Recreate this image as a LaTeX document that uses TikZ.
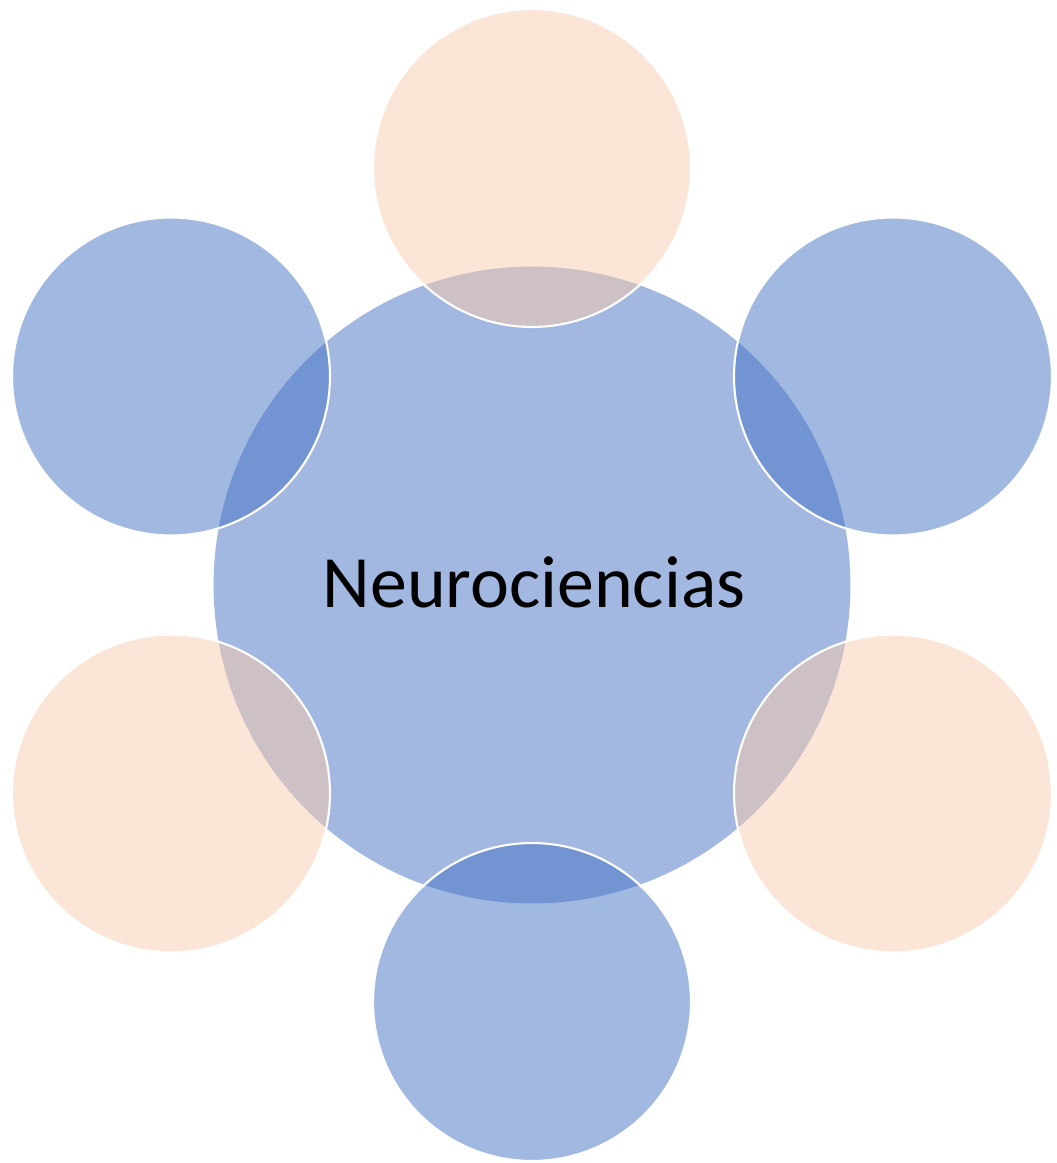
\documentclass[tikz,border=0pt]{standalone}
\usepackage{fontspec}
\setmainfont{Carlito}
\usepackage{tikz}
\usetikzlibrary{positioning}
\usepackage{xcolor}
\definecolor{accblue}{HTML}{4472C4}
\definecolor{accpeach}{HTML}{F8CBAD}

\tikzset{
  hubcircle/.style={circle,minimum size=12.74cm,inner sep=0pt,outer sep=0pt,fill=accblue!50},
  satcircle/.style={circle,minimum size=6.36cm,inner sep=0pt,outer sep=0pt,draw=white,line width=1.2pt,fill opacity=0.5},
  bluesat/.style={satcircle,fill=accblue},
  peachsat/.style={satcircle,fill=accpeach}
}

\begin{document}
\begin{tikzpicture}[x=0.02cm,y=-0.02cm]
\useasboundingbox (0,0) rectangle (1057,1163);
\node[hubcircle] (hub) at (532,585) {};
\node[peachsat] (top) at (532,168) {};
\node[bluesat] (upright) at (893,376.5) {};
\node[peachsat] (lowright) at (893,793.5) {};
\node[bluesat] (bottom) at (532,1002) {};
\node[peachsat] (lowleft) at (171,793.5) {};
\node[bluesat] (upleft) at (171,376.5) {};
\node (label) at (534,582) {\fontsize{42}{50}\selectfont Neurociencias};
\end{tikzpicture}
\end{document}
